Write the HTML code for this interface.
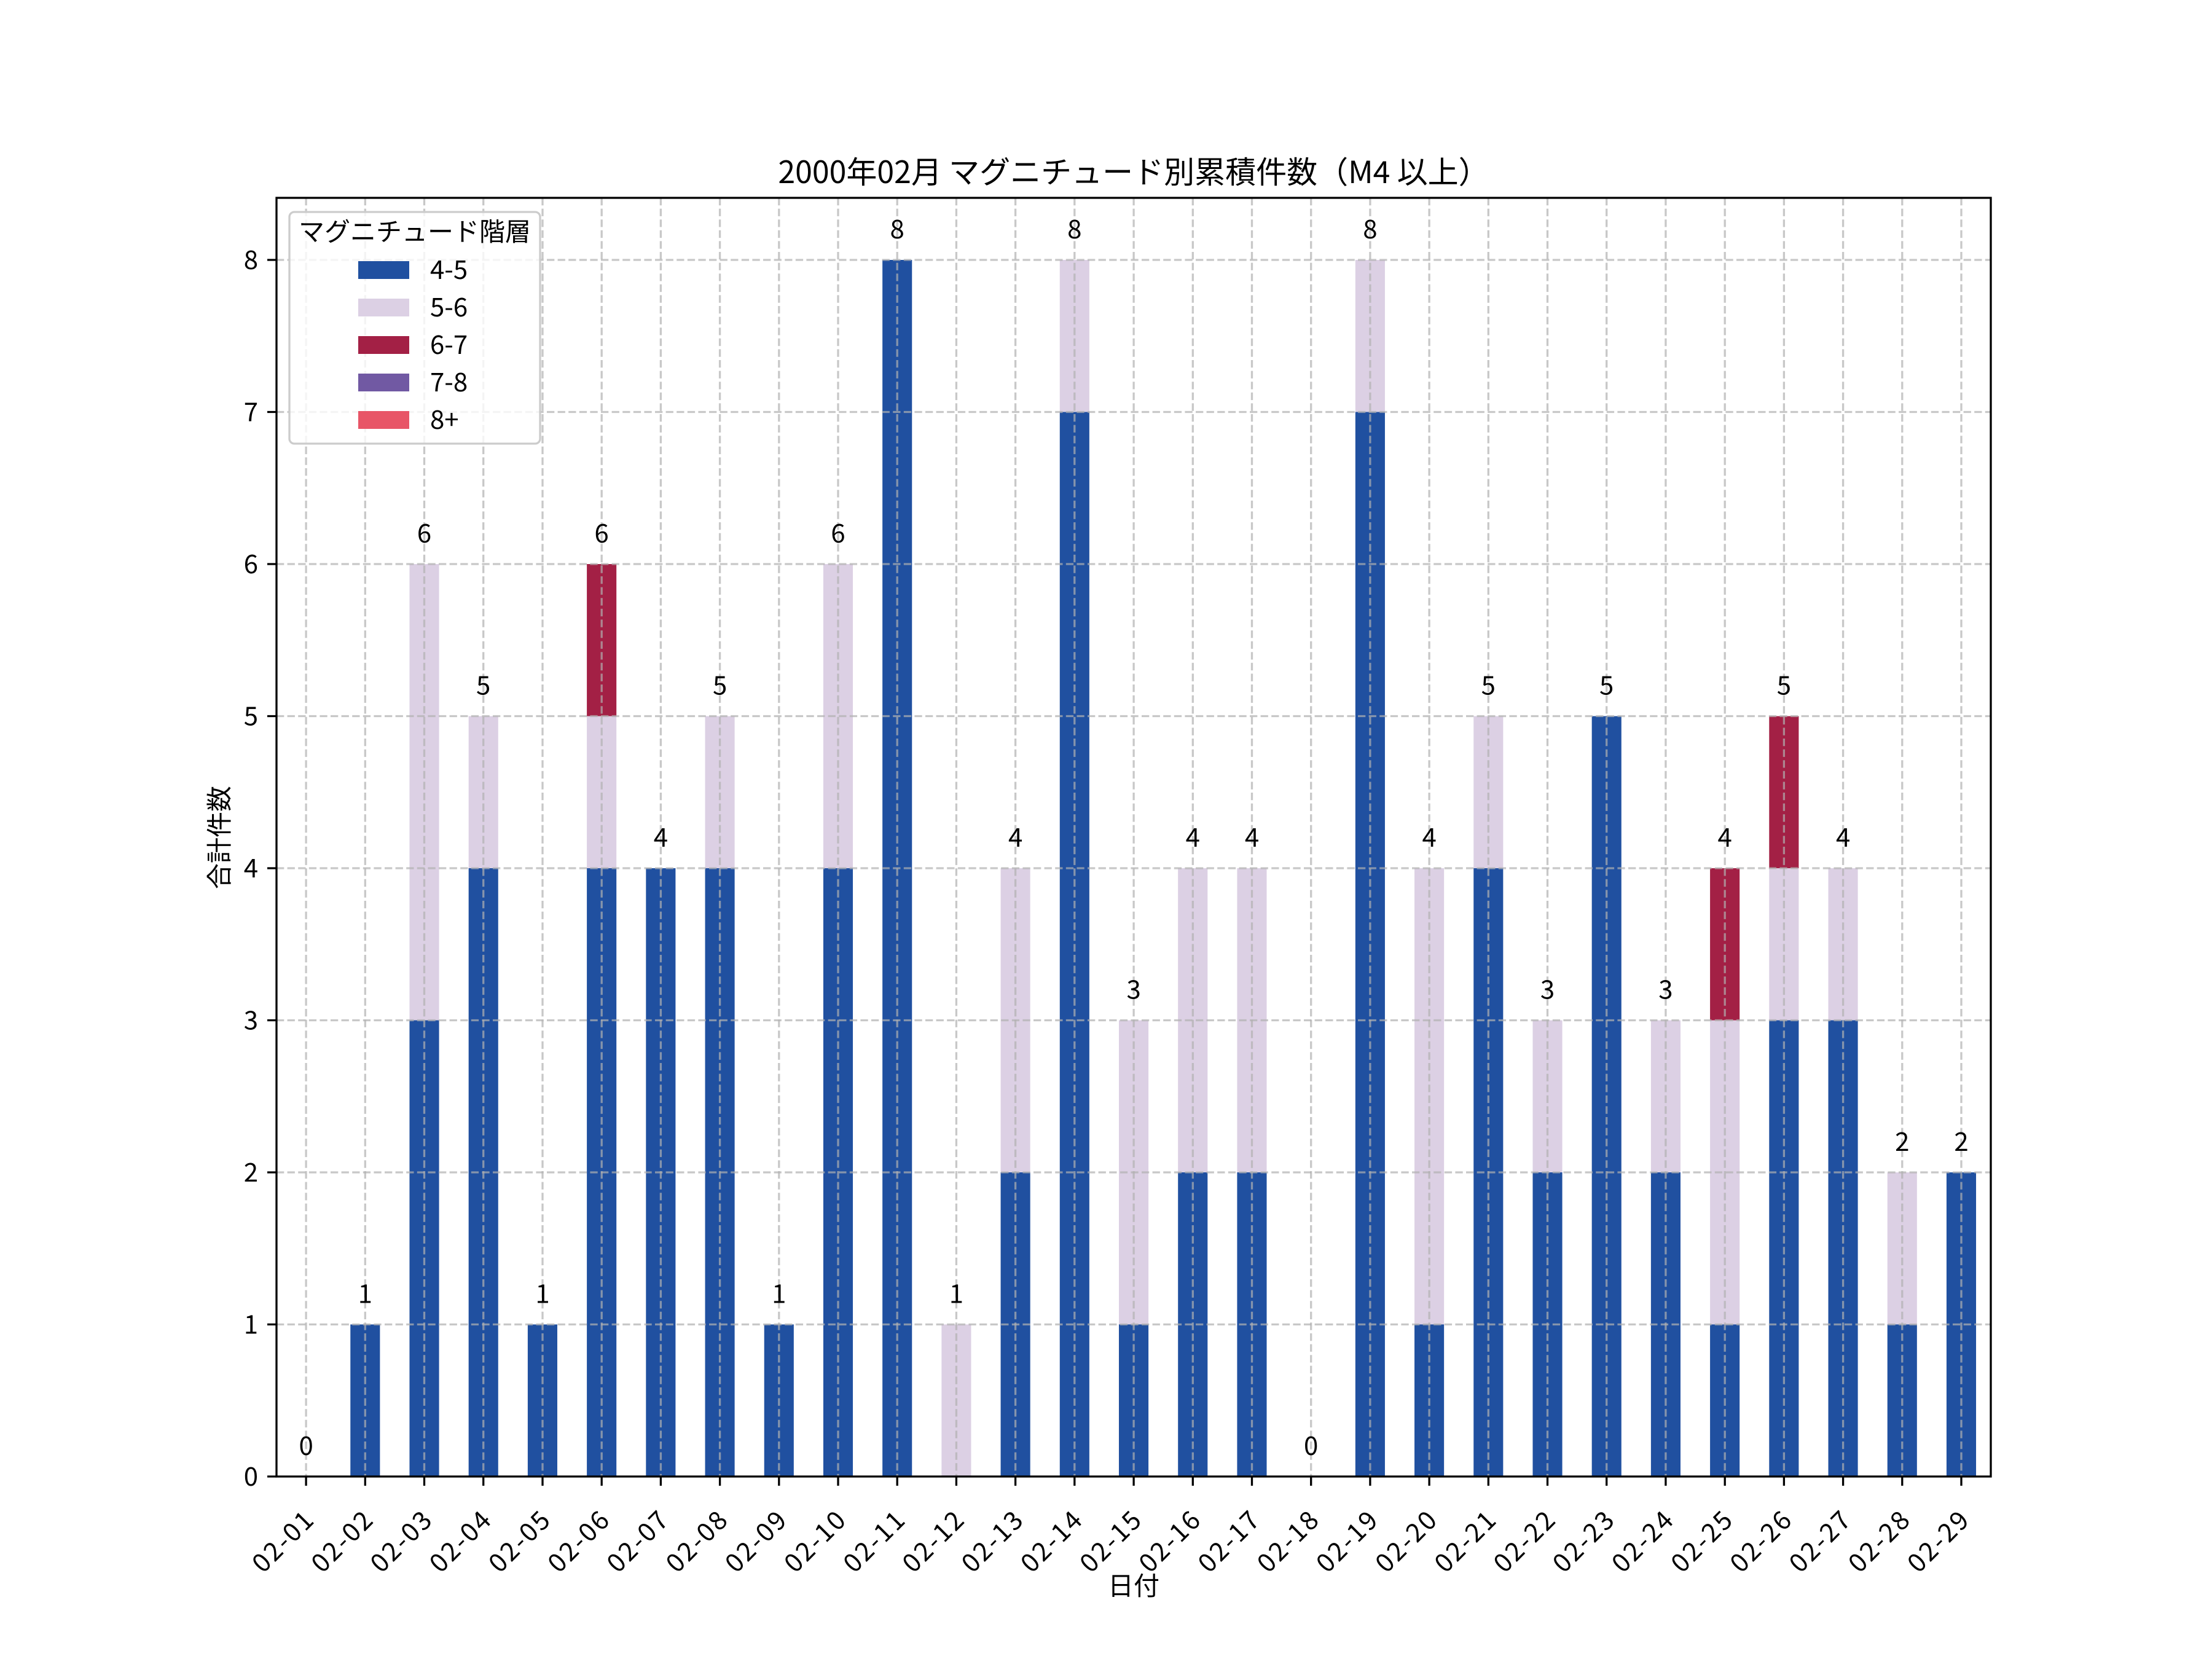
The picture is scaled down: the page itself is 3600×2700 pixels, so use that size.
<!DOCTYPE html>
<html><head><meta charset="utf-8"><style>
html,body{margin:0;padding:0;background:#fff;}
svg{display:block;font-family:"Noto Sans CJK JP","Liberation Sans",sans-serif;}
</style></head><body>
<svg width="3600" height="2700" viewBox="0 0 3600 2700" xmlns="http://www.w3.org/2000/svg">
<rect width="3600" height="2700" fill="#fff"/>
<g transform="translate(498.1,2403) scale(96.21,-247.5)">
<g fill="#2050a0">
<rect x="0.75" y="0" width="0.5" height="1"/>
<rect x="1.75" y="0" width="0.5" height="3"/>
<rect x="2.75" y="0" width="0.5" height="4"/>
<rect x="3.75" y="0" width="0.5" height="1"/>
<rect x="4.75" y="0" width="0.5" height="4"/>
<rect x="5.75" y="0" width="0.5" height="4"/>
<rect x="6.75" y="0" width="0.5" height="4"/>
<rect x="7.75" y="0" width="0.5" height="1"/>
<rect x="8.75" y="0" width="0.5" height="4"/>
<rect x="9.75" y="0" width="0.5" height="8"/>
<rect x="11.75" y="0" width="0.5" height="2"/>
<rect x="12.75" y="0" width="0.5" height="7"/>
<rect x="13.75" y="0" width="0.5" height="1"/>
<rect x="14.75" y="0" width="0.5" height="2"/>
<rect x="15.75" y="0" width="0.5" height="2"/>
<rect x="17.75" y="0" width="0.5" height="7"/>
<rect x="18.75" y="0" width="0.5" height="1"/>
<rect x="19.75" y="0" width="0.5" height="4"/>
<rect x="20.75" y="0" width="0.5" height="2"/>
<rect x="21.75" y="0" width="0.5" height="5"/>
<rect x="22.75" y="0" width="0.5" height="2"/>
<rect x="23.75" y="0" width="0.5" height="1"/>
<rect x="24.75" y="0" width="0.5" height="3"/>
<rect x="25.75" y="0" width="0.5" height="3"/>
<rect x="26.75" y="0" width="0.5" height="1"/>
<rect x="27.75" y="0" width="0.5" height="2"/>
</g>
<g fill="#dcd0e4">
<rect x="1.75" y="3" width="0.5" height="3"/>
<rect x="2.75" y="4" width="0.5" height="1"/>
<rect x="4.75" y="4" width="0.5" height="1"/>
<rect x="6.75" y="4" width="0.5" height="1"/>
<rect x="8.75" y="4" width="0.5" height="2"/>
<rect x="10.75" y="0" width="0.5" height="1"/>
<rect x="11.75" y="2" width="0.5" height="2"/>
<rect x="12.75" y="7" width="0.5" height="1"/>
<rect x="13.75" y="1" width="0.5" height="2"/>
<rect x="14.75" y="2" width="0.5" height="2"/>
<rect x="15.75" y="2" width="0.5" height="2"/>
<rect x="17.75" y="7" width="0.5" height="1"/>
<rect x="18.75" y="1" width="0.5" height="3"/>
<rect x="19.75" y="4" width="0.5" height="1"/>
<rect x="20.75" y="2" width="0.5" height="1"/>
<rect x="22.75" y="2" width="0.5" height="1"/>
<rect x="23.75" y="1" width="0.5" height="2"/>
<rect x="24.75" y="3" width="0.5" height="1"/>
<rect x="25.75" y="3" width="0.5" height="1"/>
<rect x="26.75" y="1" width="0.5" height="1"/>
</g>
<g fill="#a32045">
<rect x="4.75" y="5" width="0.5" height="1"/>
<rect x="23.75" y="3" width="0.5" height="1"/>
<rect x="24.75" y="4" width="0.5" height="1"/>
</g>
</g>
<g stroke="#b0b0b0" stroke-opacity="0.7" stroke-width="3.3" stroke-dasharray="12.3,5.3" fill="none">
<path d="M450 2155.5H3240M450 1908H3240M450 1660.5H3240M450 1413H3240M450 1165.5H3240M450 918H3240M450 670.5H3240M450 423H3240"/>
<path d="M498.1 322V2403M594.3 322V2403M690.5 322V2403M786.7 322V2403M883 322V2403M979.2 322V2403M1075.4 322V2403M1171.6 322V2403M1267.8 322V2403M1364 322V2403M1460.2 322V2403M1556.4 322V2403M1652.6 322V2403M1748.8 322V2403M1845.1 322V2403M1941.3 322V2403M2037.5 322V2403M2133.7 322V2403M2229.9 322V2403M2326.1 322V2403M2422.3 322V2403M2518.5 322V2403M2614.7 322V2403M2710.9 322V2403M2807.2 322V2403M2903.4 322V2403M2999.6 322V2403M3095.8 322V2403M3192 322V2403"/>
</g>
<rect x="450" y="322" width="2790" height="2081" fill="none" stroke="#000" stroke-width="3.3"/>
<g stroke="#000" stroke-width="3.3">
<path d="M435 2403H450M435 2155.5H450M435 1908H450M435 1660.5H450M435 1413H450M435 1165.5H450M435 918H450M435 670.5H450M435 423H450"/>
<path d="M498.1 2403v15M594.3 2403v15M690.5 2403v15M786.7 2403v15M883 2403v15M979.2 2403v15M1075.4 2403v15M1171.6 2403v15M1267.8 2403v15M1364 2403v15M1460.2 2403v15M1556.4 2403v15M1652.6 2403v15M1748.8 2403v15M1845.1 2403v15M1941.3 2403v15M2037.5 2403v15M2133.7 2403v15M2229.9 2403v15M2326.1 2403v15M2422.3 2403v15M2518.5 2403v15M2614.7 2403v15M2710.9 2403v15M2807.2 2403v15M2903.4 2403v15M2999.6 2403v15M3095.8 2403v15M3192 2403v15"/>
</g>
<g font-size="42" text-anchor="end" fill="#000">
<text x="420" y="2418">0</text>
<text x="420" y="2170.5">1</text>
<text x="420" y="1923">2</text>
<text x="420" y="1675.5">3</text>
<text x="420" y="1428">4</text>
<text x="420" y="1180.5">5</text>
<text x="420" y="933">6</text>
<text x="420" y="685.5">7</text>
<text x="420" y="438">8</text>
</g>
<g font-size="42" text-anchor="end" fill="#000" letter-spacing="3">
<text transform="translate(515,2475) rotate(-45)">02-01</text>
<text transform="translate(611.3,2475) rotate(-45)">02-02</text>
<text transform="translate(707.5,2475) rotate(-45)">02-03</text>
<text transform="translate(803.7,2475) rotate(-45)">02-04</text>
<text transform="translate(900,2475) rotate(-45)">02-05</text>
<text transform="translate(996.2,2475) rotate(-45)">02-06</text>
<text transform="translate(1092.4,2475) rotate(-45)">02-07</text>
<text transform="translate(1188.6,2475) rotate(-45)">02-08</text>
<text transform="translate(1284.8,2475) rotate(-45)">02-09</text>
<text transform="translate(1381,2475) rotate(-45)">02-10</text>
<text transform="translate(1477.2,2475) rotate(-45)">02-11</text>
<text transform="translate(1573.4,2475) rotate(-45)">02-12</text>
<text transform="translate(1669.6,2475) rotate(-45)">02-13</text>
<text transform="translate(1765.8,2475) rotate(-45)">02-14</text>
<text transform="translate(1862.1,2475) rotate(-45)">02-15</text>
<text transform="translate(1958.3,2475) rotate(-45)">02-16</text>
<text transform="translate(2054.5,2475) rotate(-45)">02-17</text>
<text transform="translate(2150.7,2475) rotate(-45)">02-18</text>
<text transform="translate(2246.9,2475) rotate(-45)">02-19</text>
<text transform="translate(2343.1,2475) rotate(-45)">02-20</text>
<text transform="translate(2439.3,2475) rotate(-45)">02-21</text>
<text transform="translate(2535.5,2475) rotate(-45)">02-22</text>
<text transform="translate(2631.7,2475) rotate(-45)">02-23</text>
<text transform="translate(2727.9,2475) rotate(-45)">02-24</text>
<text transform="translate(2824.2,2475) rotate(-45)">02-25</text>
<text transform="translate(2920.4,2475) rotate(-45)">02-26</text>
<text transform="translate(3016.6,2475) rotate(-45)">02-27</text>
<text transform="translate(3112.8,2475) rotate(-45)">02-28</text>
<text transform="translate(3209,2475) rotate(-45)">02-29</text>
</g>
<g font-size="42" text-anchor="middle" fill="#000">
<text x="498.1" y="2368">0</text>
<text x="594.3" y="2120.5">1</text>
<text x="690.5" y="883">6</text>
<text x="786.7" y="1130.5">5</text>
<text x="883" y="2120.5">1</text>
<text x="979.2" y="883">6</text>
<text x="1075.4" y="1378">4</text>
<text x="1171.6" y="1130.5">5</text>
<text x="1267.8" y="2120.5">1</text>
<text x="1364" y="883">6</text>
<text x="1460.2" y="388">8</text>
<text x="1556.4" y="2120.5">1</text>
<text x="1652.6" y="1378">4</text>
<text x="1748.8" y="388">8</text>
<text x="1845.1" y="1625.5">3</text>
<text x="1941.3" y="1378">4</text>
<text x="2037.5" y="1378">4</text>
<text x="2133.7" y="2368">0</text>
<text x="2229.9" y="388">8</text>
<text x="2326.1" y="1378">4</text>
<text x="2422.3" y="1130.5">5</text>
<text x="2518.5" y="1625.5">3</text>
<text x="2614.7" y="1130.5">5</text>
<text x="2710.9" y="1625.5">3</text>
<text x="2807.2" y="1378">4</text>
<text x="2903.4" y="1130.5">5</text>
<text x="2999.6" y="1378">4</text>
<text x="3095.8" y="1873">2</text>
<text x="3192" y="1873">2</text>
</g>
<text x="1845" y="298" font-size="50" text-anchor="middle" fill="#000">2000年02月 マグニチュード別累積件数（M4 以上）</text>
<text x="1845" y="2596" font-size="42" text-anchor="middle" fill="#000">日付</text>
<text transform="translate(372,1363) rotate(-90)" font-size="42" text-anchor="middle" fill="#000">合計件数</text>
<rect x="471" y="345" width="408" height="377" rx="8" fill="#fff" fill-opacity="0.8" stroke="#cccccc" stroke-width="3.3"/>
<text x="675" y="392" font-size="42" text-anchor="middle" fill="#000">マグニチュード階層</text>
<rect x="583" y="425" width="83" height="29" fill="#2050a0"/>
<rect x="583" y="486" width="83" height="29" fill="#dcd0e4"/>
<rect x="583" y="547" width="83" height="29" fill="#a32045"/>
<rect x="583" y="608" width="83" height="29" fill="#7159a3"/>
<rect x="583" y="669" width="83" height="29" fill="#e85567"/>
<g font-size="42" fill="#000">
<text x="700" y="454">4-5</text>
<text x="700" y="515">5-6</text>
<text x="700" y="576">6-7</text>
<text x="700" y="637">7-8</text>
<text x="700" y="698">8+</text>
</g>
</svg>
</body></html>
